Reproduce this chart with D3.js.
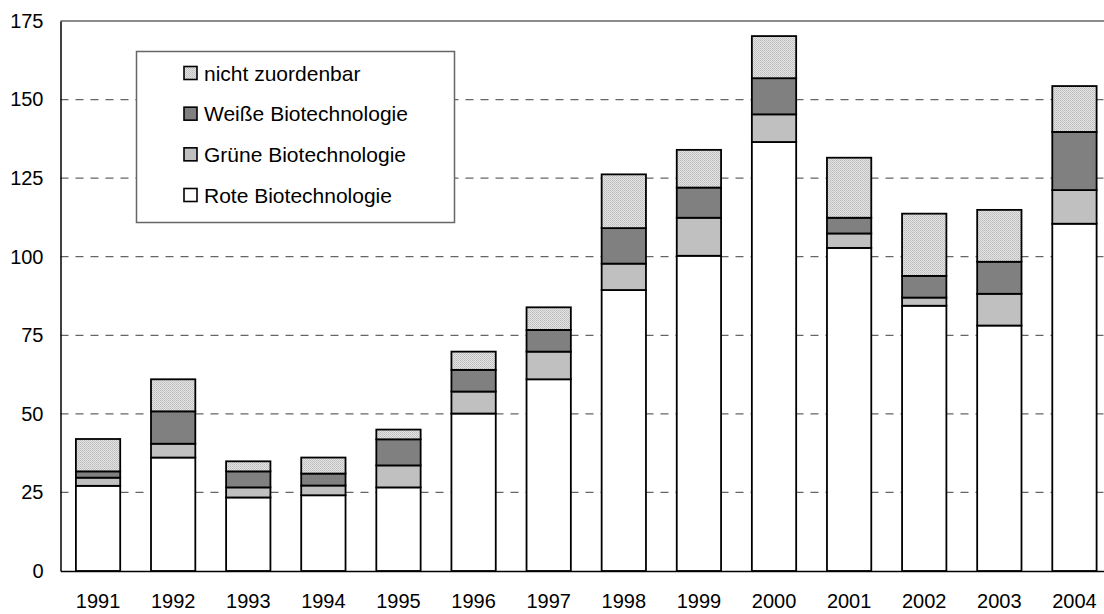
<!DOCTYPE html>
<html lang="de">
<head>
<meta charset="UTF-8">
<title>Biotechnologie</title>
<script src="https://d3js.org/d3.v7.min.js"></script>
<style>
  body { margin: 0; background: #fff; }
  text { font-family: "Liberation Sans", Arial, sans-serif; fill: #000; }
</style>
</head>
<body>
<svg id="chart" width="1104" height="614"></svg>
<script>
// data
var years = ["1991", "1992", "1993", "1994", "1995", "1996", "1997",
             "1998", "1999", "2000", "2001", "2002", "2003", "2004"];
var rote   = [27.1, 36.1, 23.4, 24.1, 26.6, 50.1, 61.0, 89.4, 100.3, 136.5, 102.8, 84.4, 78.1, 110.5];
var gruene = [ 2.6,  4.4,  3.2,  3.1,  7.0,  7.0,  8.8,  8.4,  12.1,   8.8,   4.6,  2.6, 10.1,  10.7];
var weisse = [ 2.0, 10.3,  5.1,  3.8,  8.3,  6.9,  6.9, 11.3,   9.6,  11.5,   5.0,  6.9, 10.2,  18.5];
var nicht  = [10.3, 10.2,  3.2,  5.1,  3.1,  5.8,  7.2, 17.1,  12.0,  13.4,  19.1, 19.8, 16.5,  14.6];
var yTicks = [0, 25, 50, 75, 100, 125, 150, 175];

var keys = ["rote", "gruene", "weisse", "nicht"];
var names = {
    rote: "Rote Biotechnologie",
    gruene: "Grüne Biotechnologie",
    weisse: "Weiße Biotechnologie",
    nicht: "nicht zuordenbar"
};
var fills = { rote: "#ffffff", gruene: "#c0c0c0", weisse: "#808080", nicht: "url(#hatch)" };

var rows = years.map(function (y, i) {
    return { year: y, rote: rote[i], gruene: gruene[i], weisse: weisse[i], nicht: nicht[i] };
});

var margin = { left: 60.5, top: 21, bottom: 571 };
var svg = d3.select("#chart");

// very fine grey dither for "nicht zuordenbar"
var pat = svg.append("defs").append("pattern")
    .attr("id", "hatch")
    .attr("patternUnits", "userSpaceOnUse")
    .attr("width", 2).attr("height", 2);
pat.append("rect").attr("width", 2).attr("height", 2).attr("fill", "#e4e4e4");
pat.append("rect").attr("x", 0).attr("y", 0).attr("width", 1).attr("height", 1).attr("fill", "#bcbcbc");
pat.append("rect").attr("x", 1).attr("y", 1).attr("width", 1).attr("height", 1).attr("fill", "#c6c6c6");

// the band scale runs a bit past the right edge of the picture, as in the original
var x = d3.scaleBand().domain(years).range([margin.left, 1112]).paddingInner(0.41).paddingOuter(0.205);
var y = d3.scaleLinear().domain([0, 175]).range([margin.bottom, margin.top]);

// gridlines
svg.append("g")
    .selectAll("line")
    .data(yTicks.filter(function (t) { return t > 0 && t < 175; }))
    .join("line")
    .attr("x1", margin.left).attr("x2", 1104)
    .attr("y1", function (d) { return y(d); })
    .attr("y2", function (d) { return y(d); })
    .attr("stroke", "#666")
    .attr("stroke-width", 1.2)
    .attr("stroke-dasharray", "8,7");

// top border
svg.append("line")
    .attr("x1", margin.left).attr("x2", 1104)
    .attr("y1", y(175)).attr("y2", y(175))
    .attr("stroke", "#666").attr("stroke-width", 1.5);

// legend box (drawn over the gridlines)
var legend = svg.append("g");
legend.append("rect")
    .attr("x", 136.5).attr("y", 51.5).attr("width", 318).attr("height", 171)
    .attr("fill", "#fff").attr("stroke", "#666").attr("stroke-width", 1.5);

var legendKeys = keys.slice().reverse();
var ly = d3.scalePoint().domain(legendKeys).range([73, 195]);
legendKeys.forEach(function (k) {
    legend.append("rect")
        .attr("x", 184).attr("y", ly(k) - 6.5)
        .attr("width", 13).attr("height", 13)
        .attr("fill", fills[k]).attr("stroke", "#000").attr("stroke-width", 1.6);
    legend.append("text")
        .attr("x", 204).attr("y", ly(k))
        .attr("dy", "0.36em")
        .attr("font-size", "21px")
        .text(names[k]);
});

// stacked bars
var series = d3.stack().keys(keys)(rows);
svg.append("g")
    .selectAll("g")
    .data(series)
    .join("g")
    .attr("fill", function (d) { return fills[d.key]; })
    .selectAll("rect")
    .data(function (d) { return d; })
    .join("rect")
    .attr("x", function (d) { return x(d.data.year); })
    .attr("y", function (d) { return y(d[1]); })
    .attr("width", x.bandwidth())
    .attr("height", function (d) { return y(d[0]) - y(d[1]); })
    .attr("stroke", "#000")
    .attr("stroke-width", 1.8);

// axes
var yAxis = svg.append("g")
    .attr("transform", "translate(" + margin.left + ",0)")
    .call(d3.axisLeft(y).tickValues(yTicks).tickSize(0).tickPadding(17));
yAxis.select(".domain").attr("stroke", "#000").attr("stroke-width", 1.5);
yAxis.selectAll("text").attr("font-size", "20px").attr("font-family", "Liberation Sans, Arial, sans-serif");

var xAxis = svg.append("g")
    .attr("transform", "translate(0," + margin.bottom + ")")
    .call(d3.axisBottom(x).tickSize(0).tickPadding(23));
xAxis.select(".domain").attr("stroke", "#000").attr("stroke-width", 1.6);
xAxis.selectAll("text").attr("font-size", "20px").attr("font-family", "Liberation Sans, Arial, sans-serif");
</script>
</body>
</html>
